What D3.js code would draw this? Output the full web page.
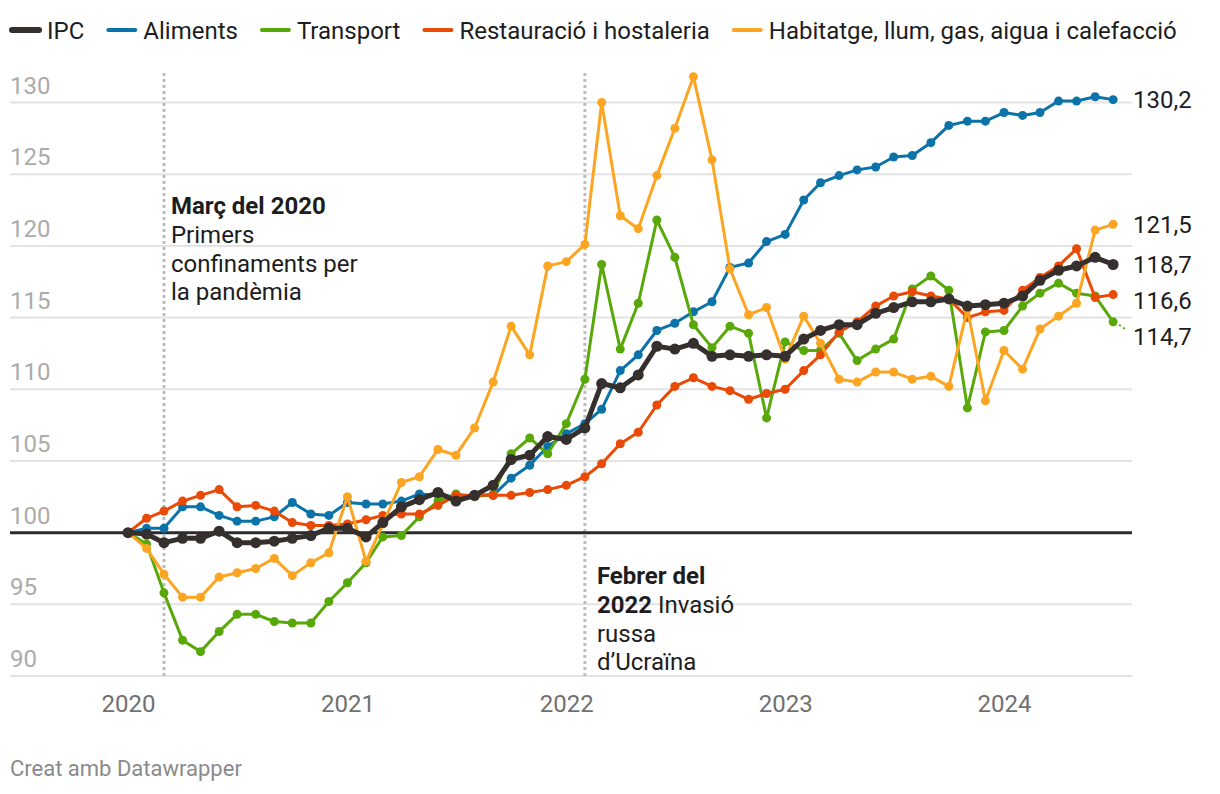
<!DOCTYPE html>
<html><head><meta charset="utf-8">
<script src="https://cdn.jsdelivr.net/npm/d3@7"></script>
<style>
body{margin:0;background:#fff;}
svg{font-family:Roboto,"Noto Sans",sans-serif;}
</style>
</head><body>
<svg id="chart" width="1220" height="794"></svg>
<script>
// ---- DATA ----
const startYear = 2020, startMonth = 0, monthCount = 55; // Jan 2020 .. Jul 2024
const seriesNames = ["IPC", "Aliments", "Transport", "Restauració i hostaleria", "Habitatge, llum, gas, aigua i calefacció"];
const seriesColors = ["#35302e", "#0b73a8", "#59a80a", "#e94b07", "#fca522"];

const ipc = [100,99.9,99.3,99.6,99.6,100.1,99.3,99.3,99.4,99.6,99.8,100.3,
  100.3,99.7,100.7,101.8,102.3,102.8,102.2,102.6,103.3,105.1,105.4,106.7,
  106.5,107.3,110.4,110.1,111.0,113.0,112.8,113.2,112.3,112.4,112.3,112.4,
  112.3,113.5,114.1,114.5,114.5,115.3,115.7,116.1,116.1,116.3,115.8,115.9,
  116.0,116.5,117.6,118.3,118.6,119.2,118.7];
const aliments = [100,100.3,100.3,101.8,101.8,101.2,100.8,100.8,101.1,102.1,101.3,101.2,
  102.1,102.0,102.0,102.2,102.7,102.6,102.5,102.6,102.6,103.8,104.7,106.0,
  106.9,107.6,108.6,111.3,112.4,114.1,114.6,115.4,116.1,118.5,118.8,120.3,
  120.8,123.2,124.4,124.9,125.3,125.5,126.2,126.3,127.2,128.4,128.7,128.7,
  129.3,129.1,129.3,130.1,130.1,130.4,130.2];
const transport = [100,99.2,95.8,92.5,91.7,93.1,94.3,94.3,93.8,93.7,93.7,95.2,
  96.5,97.9,99.7,99.8,101.1,102.2,102.7,102.5,102.7,105.5,106.6,105.5,
  107.6,110.7,118.7,112.8,116.0,121.8,119.2,114.5,112.9,114.4,113.9,108.0,
  113.3,112.7,112.7,113.9,112.0,112.8,113.5,117.0,117.9,116.9,108.7,114.0,
  114.1,115.8,116.7,117.4,116.7,116.5,114.7];
const restauracio = [100,101.0,101.5,102.2,102.6,103.0,101.8,101.9,101.5,100.7,100.5,100.5,
  100.6,100.9,101.2,101.3,101.3,101.9,102.6,102.6,102.6,102.6,102.8,103.0,
  103.3,103.9,104.8,106.2,107.0,108.9,110.2,110.8,110.2,109.9,109.3,109.7,
  110.0,111.3,112.4,114.0,114.7,115.8,116.5,116.8,116.5,116.3,115.0,115.4,
  115.5,116.9,117.8,118.6,119.8,116.4,116.6];
const habitatge = [100,98.9,97.1,95.5,95.5,96.9,97.2,97.5,98.2,97.0,97.9,98.6,
  102.5,98.0,100.6,103.5,103.9,105.8,105.4,107.3,110.5,114.4,112.4,118.6,
  118.9,120.1,130.0,122.1,121.2,124.9,128.2,131.8,126.0,118.4,115.2,115.7,
  112.1,115.1,113.2,110.7,110.5,111.2,111.2,110.7,110.9,110.2,115.6,109.2,
  112.7,111.4,114.2,115.1,116.0,121.1,121.5];
const endLabels = ["118,7", "130,2", "114,7", "116,6", "121,5"];

const yTicks = [90,95,100,105,110,115,120,125,130];
const xTickYears = [2020,2021,2022,2023,2024];

const annotations = [
  {year:2020, month:2, lines:[[{t:"Març del 2020",b:true}],[{t:"Primers",b:false}],[{t:"confinaments per",b:false}],[{t:"la pandèmia",b:false}]]},
  {year:2022, month:1, lines:[[{t:"Febrer del",b:true}],[{t:"2022",b:true},{t:" Invasió",b:false}],[{t:"russa",b:false}],[{t:"d’Ucraïna",b:false}]]}
];
const footer = "Creat amb Datawrapper";

// ---- CHART ----
const svg = d3.select("#chart");
const months = d3.range(monthCount).map(i => new Date(startYear, startMonth + i, 1));
const allSeries = [ipc, aliments, transport, restauracio, habitatge];

const gridLeft = 10, gridRight = 1132;
const x = d3.scaleTime().domain([new Date(2020,0,1), new Date(2024,0,1)]).range([128, 1004]);
const y = d3.scaleLinear().domain([90,130]).range([676, 102.5]);
const FS = 24;

// grid
const grid = svg.append("g");
yTicks.forEach(t => {
  if (t !== 100) grid.append("line").attr("x1", gridLeft).attr("x2", gridRight)
    .attr("y1", y(t)).attr("y2", y(t)).attr("stroke", "#e3e3e3").attr("stroke-width", 2);
  grid.append("text").attr("x", gridLeft).attr("y", y(t) - 9).text(t)
    .attr("font-size", FS).attr("fill", "#ababab");
});

// x axis labels
const xAxis = d3.axisBottom(x).tickValues(xTickYears.map(yy => new Date(yy,0,1)))
  .tickFormat(d3.timeFormat("%Y")).tickSize(0).tickPadding(19);
const gx = svg.append("g").attr("transform", `translate(0,${y(90)})`).call(xAxis);
gx.select(".domain").remove();
gx.selectAll("text").attr("font-size", FS).attr("fill", "#707070").attr("font-family", "Roboto,sans-serif");

// annotation dashed lines
annotations.forEach(a => {
  const ax = x(new Date(a.year, a.month, 1));
  svg.append("line").attr("x1", ax).attr("x2", ax).attr("y1", 73).attr("y2", y(90))
    .attr("stroke", "#bdbdbd").attr("stroke-width", 3).attr("stroke-dasharray", "3,3");
});

// baseline 100
svg.append("line").attr("x1", gridLeft).attr("x2", gridRight).attr("y1", y(100)).attr("y2", y(100))
  .attr("stroke", "#2b2b2b").attr("stroke-width", 3);

// annotation text
const annotTop = [y(122.2), y(96.4)];
const annotOffset = [7, 12];
annotations.forEach((a, k) => {
  const ax = x(new Date(a.year, a.month, 1)) + annotOffset[k];
  const txt = svg.append("text").attr("font-size", FS).attr("fill", "#1d1d1d");
  a.lines.forEach((ln, li) => {
    ln.forEach((seg, si) => {
      const ts = txt.append("tspan").text(seg.t).attr("font-weight", seg.b ? 700 : 400);
      if (si === 0) ts.attr("x", ax).attr("y", annotTop[k] + li * 28.7);
    });
  });
});

// lines
const line = d3.line().x((d,i) => x(months[i])).y(d => y(d));
const drawOrder = [1,2,3,4,0];
drawOrder.forEach(si => {
  const data = allSeries[si];
  const isIpc = si === 0;
  svg.append("path").datum(data).attr("d", line).attr("fill", "none")
    .attr("stroke", seriesColors[si]).attr("stroke-width", isIpc ? 5 : 3)
    .attr("stroke-linejoin", "round");
  svg.append("g").selectAll("circle").data(data).join("circle")
    .attr("cx", (d,i) => x(months[i])).attr("cy", d => y(d))
    .attr("r", isIpc ? 5.5 : 4.5).attr("fill", seriesColors[si]);
});

// end labels with collision avoidance
const lastIdx = monthCount - 1;
const labs = allSeries.map((s, si) => ({si, yv: y(s[lastIdx]), ly: y(s[lastIdx])}))
  .sort((a,b) => a.yv - b.yv);
for (let i = 1; i < labs.length; i++) {
  if (labs[i].ly - labs[i-1].ly < 36) labs[i].ly = labs[i-1].ly + 36;
}
labs.forEach(l => {
  const px = x(months[lastIdx]);
  if (Math.abs(l.ly - l.yv) > 8) {
    svg.append("line").attr("x1", px + 6).attr("y1", l.yv + 3).attr("x2", px + 12).attr("y2", l.yv + 7)
      .attr("stroke", seriesColors[l.si]).attr("stroke-width", 2).attr("stroke-dasharray", "2,3");
  }
  svg.append("text").attr("x", 1133).attr("y", l.ly).attr("dy", "0.35em")
    .attr("font-size", FS).attr("fill", "#1d1d1d").text(endLabels[l.si]);
});

// legend
const leg = svg.append("g");
let lx = 10;
seriesNames.forEach((n, si) => {
  leg.append("line").attr("x1", lx + 2).attr("x2", lx + 29).attr("y1", 30).attr("y2", 30)
    .attr("stroke", seriesColors[si]).attr("stroke-width", si === 0 ? 6 : 4).attr("stroke-linecap", "round");
  const t = leg.append("text").attr("x", lx + 37).attr("y", 38.5).attr("font-size", FS)
    .attr("fill", "#1d1d1d").text(n);
  lx += 37 + t.node().getComputedTextLength() + 22;
});

// footer
svg.append("text").attr("x", 10).attr("y", 776).attr("font-size", 22).attr("fill", "#8a8a8a").text(footer);
</script>
</body></html>
